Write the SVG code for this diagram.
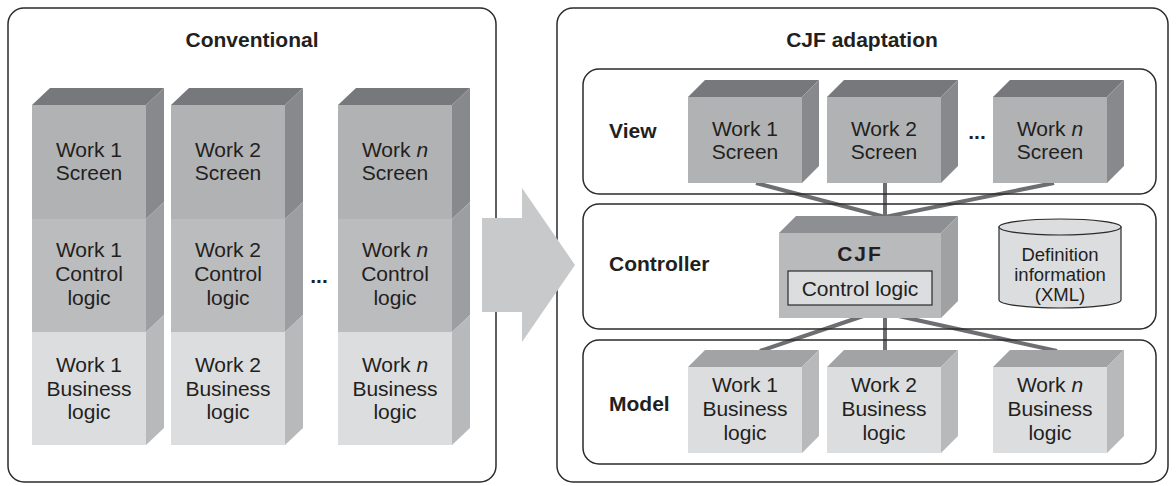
<svg xmlns="http://www.w3.org/2000/svg" width="1176" height="486" viewBox="0 0 1176 486">
<style>
text{font-family:"Liberation Sans",Arial,sans-serif;fill:#231f20;font-size:21px;text-anchor:middle}
.b{font-weight:bold}
.l{text-anchor:start}
.s{font-size:18.5px}
.panel{fill:#fff;stroke:#2b2b2b;stroke-width:1.5}
.layer{fill:none;stroke:#2b2b2b;stroke-width:1.5}
.con{stroke:#6d6e71;stroke-width:4;fill:none}
.tD{fill:#77787b}.fS{fill:#b1b2b4}.sS{fill:#88898c}
.fC{fill:#bbbcbe}.sC{fill:#9d9ea1}
.tB{fill:#a2a3a5}.fB{fill:#dcdddf}.sB{fill:#b8b9bb}
.tJ{fill:#8e8f92}.fJ{fill:#b9babc}.sJ{fill:#a0a1a3}
</style>
<rect class="panel" x="8" y="8" width="488" height="474" rx="16"/>
<rect class="panel" x="557" y="8" width="611" height="474" rx="16"/>
<text class="b" x="252" y="47">Conventional</text>
<text class="b" x="862" y="47">CJF adaptation</text>

<g id="col1">
<polygon class="tD" points="32,105 50,88 164,88 146,105"/>
<polygon class="sS" points="146,105 164,88 164,202 146,219"/>
<polygon class="sC" points="146,219 164,202 164,315 146,332"/>
<polygon class="sB" points="146,332 164,315 164,428 146,445"/>
<rect class="fS" x="32" y="105" width="114" height="114"/>
<rect class="fC" x="32" y="219" width="114" height="113"/>
<rect class="fB" x="32" y="332" width="114" height="113"/>
<text x="89" y="157">Work 1</text><text x="89" y="180">Screen</text>
<text x="89" y="257">Work 1</text><text x="89" y="281">Control</text><text x="89" y="305">logic</text>
<text x="89" y="372">Work 1</text><text x="89" y="396">Business</text><text x="89" y="419">logic</text>
</g>
<g id="col2">
<polygon class="tD" points="171,105 189,88 303,88 285,105"/>
<polygon class="sS" points="285,105 303,88 303,202 285,219"/>
<polygon class="sC" points="285,219 303,202 303,315 285,332"/>
<polygon class="sB" points="285,332 303,315 303,428 285,445"/>
<rect class="fS" x="171" y="105" width="114" height="114"/>
<rect class="fC" x="171" y="219" width="114" height="113"/>
<rect class="fB" x="171" y="332" width="114" height="113"/>
<text x="228" y="157">Work 2</text><text x="228" y="180">Screen</text>
<text x="228" y="257">Work 2</text><text x="228" y="281">Control</text><text x="228" y="305">logic</text>
<text x="228" y="372">Work 2</text><text x="228" y="396">Business</text><text x="228" y="419">logic</text>
</g>
<text class="b" x="319" y="283">...</text>
<g id="coln">
<polygon class="tD" points="338,105 356,88 470,88 452,105"/>
<polygon class="sS" points="452,105 470,88 470,202 452,219"/>
<polygon class="sC" points="452,219 470,202 470,315 452,332"/>
<polygon class="sB" points="452,332 470,315 470,428 452,445"/>
<rect class="fS" x="338" y="105" width="114" height="114"/>
<rect class="fC" x="338" y="219" width="114" height="113"/>
<rect class="fB" x="338" y="332" width="114" height="113"/>
<text x="395" y="157">Work <tspan font-style="italic">n</tspan></text><text x="395" y="180">Screen</text>
<text x="395" y="257">Work <tspan font-style="italic">n</tspan></text><text x="395" y="281">Control</text><text x="395" y="305">logic</text>
<text x="395" y="372">Work <tspan font-style="italic">n</tspan></text><text x="395" y="396">Business</text><text x="395" y="419">logic</text>
</g>

<g id="arrow">
<polygon fill="#c8c9cb" points="482,218 522,218 522,188 575,265 522,342 522,312 482,312"/>
</g>

<g id="connectors">
<line class="con" x1="756" y1="183" x2="885" y2="217"/>
<line class="con" x1="885" y1="183" x2="885" y2="217"/>
<line class="con" x1="1054" y1="183" x2="885" y2="217"/>
<line class="con" x1="872" y1="313" x2="760" y2="351"/>
<line class="con" x1="885" y1="313" x2="885" y2="351"/>
<line class="con" x1="885" y1="313" x2="1057" y2="351"/>
</g>

<g id="view">
<rect class="layer" x="583" y="69" width="573" height="125" rx="16"/>
<text class="b l" x="609" y="138">View</text>
</g>
<g id="controller">
<rect class="layer" x="583" y="204" width="573" height="125" rx="16"/>
<text class="b l" x="609" y="271">Controller</text>
</g>
<g id="model">
<rect class="layer" x="583" y="340" width="573" height="124" rx="16"/>
<text class="b l" x="609" y="411">Model</text>
</g>

<g id="v1">
<polygon class="tD" points="688,97 705,80 819,80 802,97"/>
<polygon class="sS" points="802,97 819,80 819,166 802,183"/>
<rect class="fS" x="688" y="97" width="114" height="86"/>
<text x="745" y="136">Work 1</text><text x="745" y="159">Screen</text>
</g>
<g id="v2">
<polygon class="tD" points="827,97 844,80 958,80 941,97"/>
<polygon class="sS" points="941,97 958,80 958,166 941,183"/>
<rect class="fS" x="827" y="97" width="114" height="86"/>
<text x="884" y="136">Work 2</text><text x="884" y="159">Screen</text>
</g>
<text class="b" x="977" y="139">...</text>
<g id="vn">
<polygon class="tD" points="993,97 1010,80 1124,80 1107,97"/>
<polygon class="sS" points="1107,97 1124,80 1124,166 1107,183"/>
<rect class="fS" x="993" y="97" width="114" height="86"/>
<text x="1050" y="136">Work <tspan font-style="italic">n</tspan></text><text x="1050" y="159">Screen</text>
</g>

<g id="cjf">
<polygon class="tJ" points="779,233 796,216 958,216 941,233"/>
<polygon class="sJ" points="941,233 958,216 958,301 941,318"/>
<rect class="fJ" x="779" y="233" width="162" height="85"/>
<text class="b" x="860" y="261" letter-spacing="2">CJF</text>
<rect x="788" y="271" width="144" height="34" fill="#dcdddf" stroke="#2b2b2b" stroke-width="1.2"/>
<text x="860" y="296">Control logic</text>
</g>

<g id="definition">
<path d="M999,227 L999,300 A61,8 0 0 0 1121,300 L1121,227 Z" fill="#dcdddf" stroke="#2b2b2b" stroke-width="1.2"/>
<ellipse cx="1060" cy="227" rx="61" ry="8" fill="#dcdddf" stroke="#2b2b2b" stroke-width="1.2"/>
<text class="s" x="1060" y="261">Definition</text>
<text class="s" x="1060" y="281">information</text>
<text class="s" x="1060" y="301">(XML)</text>
</g>

<g id="m1">
<polygon class="tB" points="688,367 705,350 819,350 802,367"/>
<polygon class="sB" points="802,367 819,350 819,436 802,453"/>
<rect class="fB" x="688" y="367" width="114" height="86"/>
<text x="745" y="392">Work 1</text><text x="745" y="416">Business</text><text x="745" y="440">logic</text>
</g>
<g id="m2">
<polygon class="tB" points="827,367 844,350 958,350 941,367"/>
<polygon class="sB" points="941,367 958,350 958,436 941,453"/>
<rect class="fB" x="827" y="367" width="114" height="86"/>
<text x="884" y="392">Work 2</text><text x="884" y="416">Business</text><text x="884" y="440">logic</text>
</g>
<g id="mn">
<polygon class="tB" points="993,367 1010,350 1124,350 1107,367"/>
<polygon class="sB" points="1107,367 1124,350 1124,436 1107,453"/>
<rect class="fB" x="993" y="367" width="114" height="86"/>
<text x="1050" y="392">Work <tspan font-style="italic">n</tspan></text><text x="1050" y="416">Business</text><text x="1050" y="440">logic</text>
</g>
</svg>
